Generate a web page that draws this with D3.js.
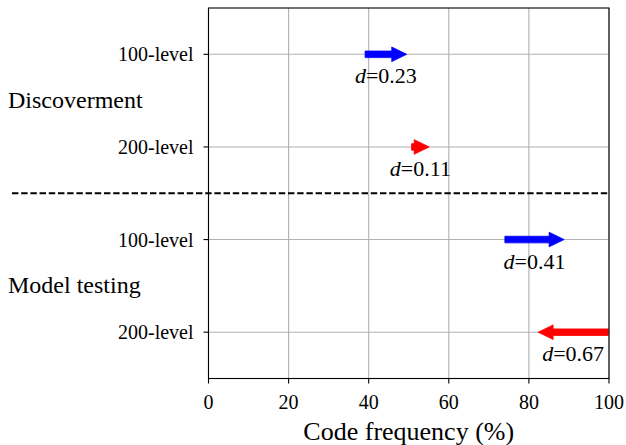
<!DOCTYPE html>
<html>
<head>
<meta charset="utf-8">
<script src="https://cdn.jsdelivr.net/npm/d3@7"></script>
<style>
    body { margin: 0; background: #fff; }
    text, tspan { font-family: "Liberation Serif", "DejaVu Serif", serif; fill: #000; }
</style>
</head>
<body>
<svg id="chart" width="626" height="445"></svg>
<script>
// two groups, two course levels each (top to bottom)
var groups = ["Discoverment", "Model testing"];
var levels = ["100-level", "200-level", "100-level", "200-level"];
// arrow runs from start value to end value (code frequency %)
var startVals = [39.1, 50.7, 74.0, 99.8];
var endVals = [49.5, 55.1, 88.8, 82.3];
var effects = ["0.23", "0.11", "0.41", "0.67"];
var xTicks = [0, 20, 40, 60, 80, 100];
var levelColors = { "100-level": "#0000ff", "200-level": "#ff0000" };

// plot box in px (window.top is read only, so no bare "top")
var plotLeft = 208.5, plotRight = 609, plotTop = 8, plotBottom = 378.5;
var svg = d3.select("#chart");

var x = d3.scaleLinear().domain([0, 100]).range([plotLeft, plotRight]);
var y = d3.scaleLinear().domain([-0.5, 3.5]).range([plotTop, plotBottom]);
var rows = d3.range(levels.length);

// grid
svg.append("g").selectAll("line").data(xTicks).enter().append("line")
    .attr("x1", function (d) { return x(d); }).attr("x2", function (d) { return x(d); })
    .attr("y1", plotTop).attr("y2", plotBottom)
    .attr("stroke", "#b0b0b0").attr("stroke-width", 1.1);
svg.append("g").selectAll("line").data(rows).enter().append("line")
    .attr("x1", plotLeft).attr("x2", plotRight)
    .attr("y1", function (d) { return y(d); }).attr("y2", function (d) { return y(d); })
    .attr("stroke", "#b0b0b0").attr("stroke-width", 1.1);

// separator between the groups, runs out past the axis
svg.append("line")
    .attr("x1", 12).attr("x2", plotRight)
    .attr("y1", y(1.5)).attr("y2", y(1.5))
    .attr("stroke", "#000").attr("stroke-width", 1.8)
    .attr("stroke-dasharray", "6.4,2.8");

// arrows
function arrowPath(i) {
    var x0 = x(startVals[i]), x1 = x(endVals[i]), yc = y(i);
    var dir = x1 > x0 ? 1 : -1;
    var hl = 15, hw = 7.3, w = 3.3;
    var xb = x1 - dir * hl;
    return "M" + x0 + "," + (yc - w) + "L" + xb + "," + (yc - w) + "L" + xb + "," + (yc - hw)
        + "L" + x1 + "," + yc + "L" + xb + "," + (yc + hw) + "L" + xb + "," + (yc + w)
        + "L" + x0 + "," + (yc + w) + "Z";
}
svg.append("g").selectAll("path").data(rows).enter().append("path")
    .attr("d", arrowPath)
    .attr("fill", function (d) { return levelColors[levels[d]]; })
    .attr("stroke", function (d) { return levelColors[levels[d]]; })
    .attr("stroke-width", 0.8);

// effect size labels under each arrow
var lab = svg.append("g").selectAll("text").data(rows).enter().append("text")
    .attr("x", function (d) { return x((startVals[d] + endVals[d]) / 2); })
    .attr("y", function (d) { return y(d) + 29; })
    .attr("text-anchor", "middle")
    .style("font-size", "22px");
lab.append("tspan").style("font-style", "italic").text("d");
lab.append("tspan").text(function (d) { return "=" + effects[d]; });

// spines
svg.append("rect")
    .attr("x", plotLeft).attr("y", plotTop)
    .attr("width", plotRight - plotLeft).attr("height", plotBottom - plotTop)
    .attr("fill", "none").attr("stroke", "#000").attr("stroke-width", 1.1);

// y ticks
var yt = svg.append("g").selectAll("g").data(rows).enter().append("g");
yt.append("line")
    .attr("x1", plotLeft - 5).attr("x2", plotLeft)
    .attr("y1", function (d) { return y(d); }).attr("y2", function (d) { return y(d); })
    .attr("stroke", "#000").attr("stroke-width", 1.1);
yt.append("text")
    .attr("x", plotLeft - 15).attr("y", function (d) { return y(d) + 7; })
    .attr("text-anchor", "end").style("font-size", "20px")
    .text(function (d) { return levels[d]; });

// group names
svg.append("g").selectAll("text").data(groups).enter().append("text")
    .attr("x", 8).attr("y", function (d, i) { return y(i * 2 + 0.5) + 7.5; })
    .style("font-size", "24px")
    .text(function (d) { return d; });

// x axis
var xt = svg.append("g").selectAll("g").data(xTicks).enter().append("g");
xt.append("line")
    .attr("x1", function (d) { return x(d); }).attr("x2", function (d) { return x(d); })
    .attr("y1", plotBottom).attr("y2", plotBottom + 5)
    .attr("stroke", "#000").attr("stroke-width", 1.1);
xt.append("text")
    .attr("x", function (d) { return x(d); }).attr("y", 409)
    .attr("text-anchor", "middle").style("font-size", "20px")
    .text(function (d) { return d; });

svg.append("text")
    .attr("x", (plotLeft + plotRight) / 2).attr("y", 440)
    .attr("text-anchor", "middle").style("font-size", "26px")
    .text("Code frequency (%)");
</script>
</body>
</html>
